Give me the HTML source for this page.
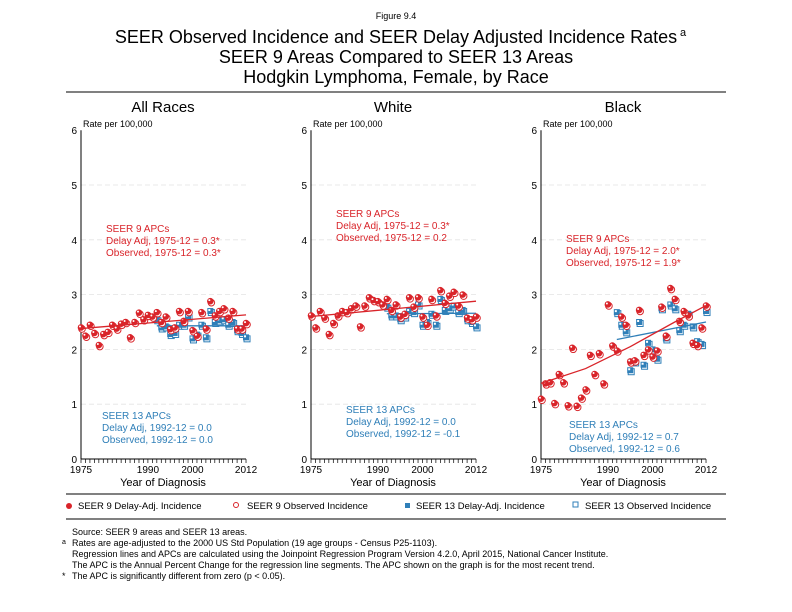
<!DOCTYPE html><html><head><style>body{margin:0;background:#fff}svg{display:block;font-family:"Liberation Sans",Arial,sans-serif}</style></head><body>
<svg id="s" width="792" height="612" xmlns="http://www.w3.org/2000/svg">
<text x="396" y="19" font-size="9" text-anchor="middle">Figure 9.4</text>
<text x="396" y="43" font-size="18" text-anchor="middle">SEER Observed Incidence and SEER Delay Adjusted Incidence Rates</text>
<text x="680" y="36" font-size="11">a</text>
<text x="396" y="63" font-size="18" text-anchor="middle">SEER 9 Areas Compared to SEER 13 Areas</text>
<text x="396" y="83" font-size="18" text-anchor="middle">Hodgkin Lymphoma, Female, by Race</text>
<line x1="66" y1="92" x2="726" y2="92" stroke="#000" stroke-width="1"/>
<g id="p"></g>
<line x1="66" y1="494" x2="726" y2="494" stroke="#000"/>
<line x1="66" y1="519" x2="726" y2="519" stroke="#000"/>
<g font-size="9.5">
<circle cx="69" cy="506" r="3" fill="#d9242a"/><text x="78" y="509">SEER 9 Delay-Adj. Incidence</text>
<circle cx="236" cy="505" r="2.5" fill="none" stroke="#d9242a"/><text x="247" y="509">SEER 9 Observed Incidence</text>
<rect x="405" y="503" width="5" height="5" fill="#2f7fb8"/><text x="416" y="509">SEER 13 Delay-Adj. Incidence</text>
<rect x="573" y="502" width="5" height="5" fill="none" stroke="#2f7fb8"/><text x="585" y="509">SEER 13 Observed Incidence</text>
</g>
<g font-size="9">
<text x="72" y="535">Source: SEER 9 areas and SEER 13 areas.</text>
<text x="62" y="544" font-size="7">a</text><text x="72" y="546">Rates are age-adjusted to the 2000 US Std Population (19 age groups - Census P25-1103).</text>
<text x="72" y="557">Regression lines and APCs are calculated using the Joinpoint Regression Program Version 4.2.0, April 2015, National Cancer Institute.</text>
<text x="72" y="568">The APC is the Annual Percent Change for the regression line segments. The APC shown on the graph is for the most recent trend.</text>
<text x="62" y="579">*</text><text x="72" y="579">The APC is significantly different from zero (p &lt; 0.05).</text>
</g>
</svg>
<script>
const P=[
{x0:81,t:"All Races",
s9:[2.4,2.25,2.45,2.3,2.08,2.28,2.32,2.45,2.38,2.47,2.5,2.22,2.5,2.67,2.55,2.63,2.6,2.68,2.5,2.6,2.37,2.4,2.7,2.52,2.7,2.35,2.25,2.68,2.38,2.88,2.62,2.7,2.75,2.58,2.7,2.38,2.38,2.48],
s13:[2.55,2.4,2.42,2.28,2.3,2.45,2.45,2.6,2.2,2.27,2.45,2.22,2.7,2.5,2.53,2.55,2.45,2.5,2.35,2.3,2.22],
l9:[[1975,2.38],[2012,2.63]],l13:[[1992,2.43],[2012,2.43]],
a9:["SEER 9 APCs","Delay Adj, 1975-12 = 0.3*","Observed, 1975-12 = 0.3*"],a9y:232,
a13:["SEER 13 APCs","Delay Adj, 1992-12 = 0.0","Observed, 1992-12 = 0.0"],a13y:419,ax9:106,ax13:102},
{x0:311,t:"White",
s9:[2.62,2.4,2.7,2.58,2.28,2.48,2.62,2.7,2.68,2.75,2.8,2.42,2.8,2.95,2.9,2.88,2.82,2.92,2.72,2.82,2.6,2.65,2.95,2.78,2.95,2.6,2.45,2.92,2.62,3.08,2.85,2.98,3.05,2.8,3.0,2.58,2.55,2.6],
s13:[2.78,2.62,2.62,2.55,2.6,2.7,2.68,2.82,2.45,2.5,2.65,2.45,2.92,2.72,2.75,2.8,2.68,2.72,2.55,2.5,2.42],
l9:[[1975,2.6],[2012,2.88]],l13:[[1992,2.65],[2012,2.66]],
a9:["SEER 9 APCs","Delay Adj, 1975-12 = 0.3*","Observed, 1975-12 = 0.2"],a9y:217,
a13:["SEER 13 APCs","Delay Adj, 1992-12 = 0.0","Observed, 1992-12 = -0.1"],a13y:413,ax9:336,ax13:346},
{x0:541,t:"Black",
s9:[1.1,1.38,1.4,1.02,1.55,1.4,0.98,2.03,0.97,1.12,1.27,1.9,1.55,1.93,1.38,2.82,2.07,1.98,2.6,2.45,1.78,1.8,2.72,1.9,2.0,1.87,1.98,2.78,2.25,3.12,2.92,2.52,2.7,2.62,2.12,2.08,2.4,2.8],
s13:[2.68,2.45,2.33,1.62,1.78,2.5,1.72,2.12,2.0,1.83,2.75,2.2,2.82,2.75,2.35,2.45,2.65,2.42,2.15,2.1,2.7],
l9:[[1975,1.38],[1985,1.65],[1995,2.05],[2005,2.5],[2012,2.8]],l13:[[1992,2.18],[2012,2.5]],
a9:["SEER 9 APCs","Delay Adj, 1975-12 = 2.0*","Observed, 1975-12 = 1.9*"],a9y:242,
a13:["SEER 13 APCs","Delay Adj, 1992-12 = 0.7","Observed, 1992-12 = 0.6"],a13y:428,ax9:566,ax13:569}];
const R="#d9242a",B="#2f7fb8";let h="";
const Y=v=>459-v*54.8;
P.forEach(p=>{const X=y=>p.x0+(y-1975)*4.46;const cx=p.x0+82;
h+=`<text x="${cx}" y="112" font-size="15" text-anchor="middle">${p.t}</text>`;
h+=`<text x="${p.x0+2}" y="127" font-size="9">Rate per 100,000</text>`;
for(let v=1;v<=5;v++)h+=`<line x1="${p.x0}" x2="${p.x0+166}" y1="${Y(v)}" y2="${Y(v)}" stroke="#e4e4e4" stroke-dasharray="5,3" stroke-width="0.8"/>`;
for(let v=0;v<=6;v++)h+=`<text x="${p.x0-4}" y="${Y(v)+4}" font-size="10" text-anchor="end">${v}</text>`;
h+=`<line x1="${p.x0}" x2="${p.x0}" y1="${Y(6)}" y2="459" stroke="#000"/><line x1="${p.x0}" x2="${X(2012)}" y1="459" y2="459" stroke="#000"/>`;
for(let y=1975;y<=2012;y++)h+=`<line x1="${X(y)}" x2="${X(y)}" y1="459" y2="463" stroke="#000" stroke-width="0.7"/>`;
[1975,1990,2000,2012].forEach(y=>h+=`<text x="${X(y)}" y="473" font-size="10" text-anchor="middle">${y}</text>`);
h+=`<text x="${cx}" y="486" font-size="11" text-anchor="middle">Year of Diagnosis</text>`;
p.a9.forEach((t,i)=>h+=`<text x="${p.ax9}" y="${p.a9y+i*12}" font-size="10" fill="${R}">${t}</text>`);
p.a13.forEach((t,i)=>h+=`<text x="${p.ax13}" y="${p.a13y+i*12}" font-size="10" fill="${B}">${t}</text>`);
p.s13.forEach((v,i)=>{const x=X(1992+i),y=Y(v);h+=`<rect x="${x-2}" y="${y-1.5}" width="6" height="6" fill="#fff" stroke="${B}"/><rect x="${x-3}" y="${y-3}" width="6" height="6" fill="${B}"/><rect x="${x-2}" y="${y-2}" width="2" height="2" fill="#fff"/>`});
h+=`<polyline points="${p.l13.map(a=>X(a[0])+','+Y(a[1])).join(' ')}" fill="none" stroke="${B}" stroke-width="1.3"/>`;
p.s9.forEach((v,i)=>{const x=X(1975+i),y=Y(v);h+=`<circle cx="${x+1}" cy="${y+1.5}" r="3.3" fill="#fff" stroke="${R}" stroke-width="1"/><circle cx="${x}" cy="${y}" r="3.3" fill="${R}"/><circle cx="${x-1}" cy="${y-1}" r="1" fill="#fff"/>`});
h+=`<polyline points="${p.l9.map(a=>X(a[0])+','+Y(a[1])).join(' ')}" fill="none" stroke="${R}" stroke-width="1.3"/>`;
});
document.getElementById("p").innerHTML=h;
</script></body></html>
